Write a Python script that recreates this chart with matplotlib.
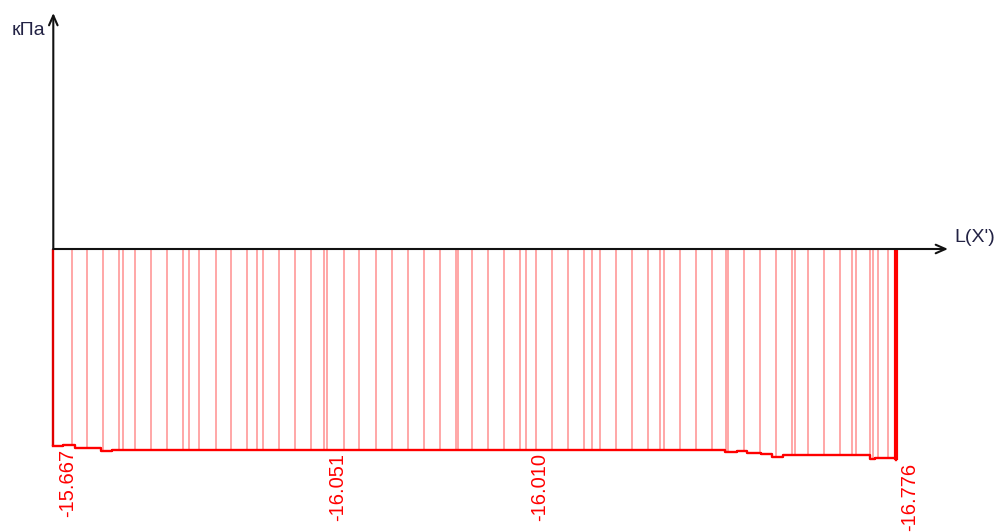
import numpy as np
import matplotlib
matplotlib.use("Agg")
import matplotlib.pyplot as plt

plt.rcParams['font.family'] = ['Liberation Sans', 'DejaVu Sans']

# Hatch node positions along L (m)
node_x = [0, 0.92, 1.67, 2.47, 3.30, 3.47, 4.09, 4.89, 5.69, 6.50, 6.79, 7.30,
          8.12, 8.90, 9.70, 10.20, 10.47, 11.30, 12.10, 12.90, 13.52, 13.70,
          14.52, 15.30, 16.12, 16.92, 17.72, 18.52, 19.32, 20.12, 20.21, 20.92,
          21.72, 22.54, 23.34, 23.62, 24.12, 24.94, 25.74, 26.54, 26.92, 27.32,
          28.14, 28.94, 29.75, 30.34, 30.54, 31.34, 32.14, 32.94, 33.61, 33.74,
          34.54, 35.34, 36.14, 36.95, 37.07, 37.74, 38.54, 39.34, 39.95, 40.14,
          40.84, 41.00, 41.25, 41.75, 42.12]

# Pressure profile (kPa), step-wise
profile_x = [0, 0.49, 1.09, 2.39, 2.94, 13.84, 32.94, 33.59, 34.19, 34.69,
             35.39, 35.94, 36.49, 40.84, 41.09, 42.12]
profile_v = [-15.667, -15.62, -15.85, -16.09, -16.03, -16.01, -15.97, -16.15,
             -16.08, -16.26, -16.32, -16.56, -16.43, -16.74, -16.66, -16.776]

# Annotated values
label_x = [0, 13.52, 23.62, 42.12]
label_v = [-15.667, -16.051, -16.010, -16.776]
label_txt = ["-15.667", "-16.051", "-16.010", "-16.776"]

y_unit = "кПа"
x_unit = "L(X')"

W, H = 1002, 532
fig = plt.figure(figsize=(W / 100, H / 100), dpi=100)
ax = fig.add_axes([0, 0, 1, 1])
px_per_m = 20.0
px_per_kpa = 12.555
x0_px, y0_px = 53.3, 249.0
ax.set_xlim(-x0_px / px_per_m, (W - x0_px) / px_per_m)
ax.set_ylim(-(H - y0_px) / px_per_kpa, y0_px / px_per_kpa)
ax.axis('off')

px = np.array(profile_x)
pv = np.array(profile_v)
nx = np.array(node_x)
idx = np.clip(np.searchsorted(px, nx, side='right') - 1, 0, len(pv) - 1)
nv = pv[idx]

# hatch lines
ax.vlines(nx[1:-1], nv[1:-1], 0, colors='#FFA0A0', lw=1.3, zorder=2)
# end lines
ax.vlines([nx[0]], [nv[0]], 0, colors='#E00000', lw=1.7, zorder=3)
ax.vlines([nx[-1]], [nv[-1]], 0, colors='#FF0000', lw=3.0, zorder=3)
# profile
ax.plot(px, pv, drawstyle='steps-post', color='#FF0000', lw=1.7, zorder=3)

# axes with arrows
x_end = (948 - x0_px) / px_per_m
y_end = (y0_px - 13) / px_per_kpa
ax.annotate('', xy=(x_end, 0), xytext=(0, 0),
            arrowprops=dict(arrowstyle='->,head_length=0.5,head_width=0.22',
                            color='#111111', lw=1.5, shrinkA=0, shrinkB=0,
                            mutation_scale=14), zorder=5)
ax.annotate('', xy=(0, y_end), xytext=(0, 0),
            arrowprops=dict(arrowstyle='->,head_length=0.5,head_width=0.22',
                            color='#111111', lw=1.5, shrinkA=0, shrinkB=0,
                            mutation_scale=14), zorder=5)

ax.text((45 - x0_px) / px_per_m, (y0_px - 30) / px_per_kpa, y_unit,
        ha='right', va='center', fontsize=14, color='#222244')
ax.text((954 - x0_px) / px_per_m, (y0_px - 237) / px_per_kpa, x_unit,
        ha='left', va='center', fontsize=14, color='#222244')

for lx, lv, lt in zip(label_x, label_v, label_txt):
    ax.annotate(lt, xy=(lx, lv), xytext=(10, -2), textcoords='offset points',
                rotation=90, ha='center', va='top', fontsize=14.5,
                color='#FF0000')

fig.savefig('out.png', dpi=100)
